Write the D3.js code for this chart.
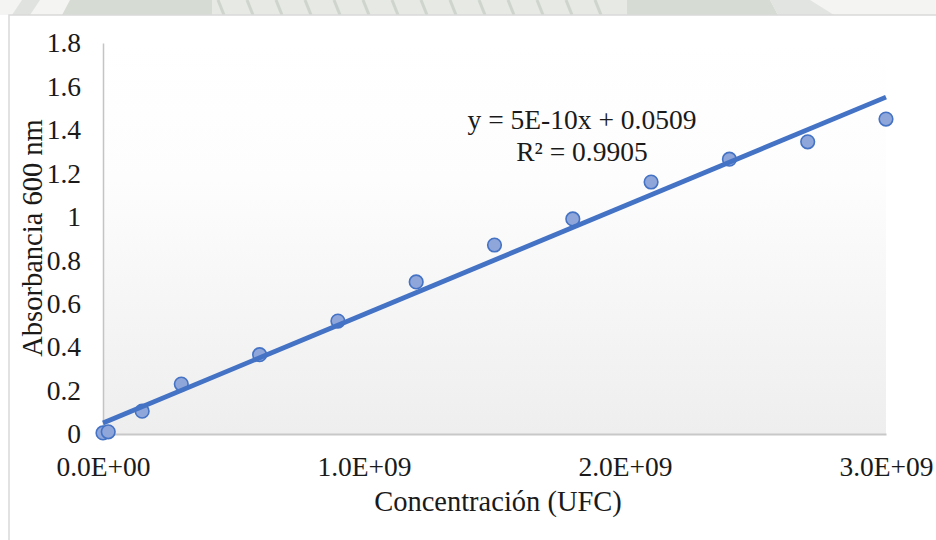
<!DOCTYPE html>
<html>
<head>
<meta charset="utf-8">
<script src="https://cdn.jsdelivr.net/npm/d3@7"></script>
<style>
  html, body { margin: 0; padding: 0; background: #ffffff; }
  svg { display: block; }
  svg text { font-family: "Liberation Serif", "DejaVu Serif", serif; fill: #1a1a1a; }
</style>
</head>
<body>
<svg id="chart" width="936" height="540"></svg>
<script>
// Measured samples: concentration (UFC) and absorbance at 600 nm
const concentration = [0, 2e7, 1.5e8, 3e8, 6e8, 9e8, 1.2e9, 1.5e9, 1.8e9, 2.1e9, 2.4e9, 2.7e9, 3.0e9];
const absorbance    = [0.005, 0.01, 0.105, 0.23, 0.365, 0.52, 0.70, 0.87, 0.99, 1.16, 1.265, 1.345, 1.45];

// Linear trendline as reported on the chart
const slope = 5e-10;
const intercept = 0.0509;
const equationLabels = ["y = 5E-10x + 0.0509", "R\u00B2 = 0.9905"];

// Axis ticks and titles
const xTicks = [0, 1e9, 2e9, 3e9];
const xTickLabels = ["0.0E+00", "1.0E+09", "2.0E+09", "3.0E+09"];
const yTicks = [0, 0.2, 0.4, 0.6, 0.8, 1, 1.2, 1.4, 1.6, 1.8];
const xTitle = "Concentraci\u00F3n (UFC)";
const yTitle = "Absorbancia 600 nm";

const FONT = "Liberation Serif, DejaVu Serif, serif";
const FS = 27.5;
const TITLE_FS = 28.5;

const svg = d3.select("#chart");
const W = 936, H = 540;
const plot = { left: 103, right: 886, top: 43, bottom: 434 };

// Faint banner strip across the top edge
const banner = svg.append("g");
banner.append("rect").attr("x", 0).attr("y", 0).attr("width", W).attr("height", 15).attr("fill", "#f4f5f3");
banner.append("polygon").attr("points", "70,0 770,0 778,15 62,15").attr("fill", "#d6dcd3");
banner.append("polygon").attr("points", "22,0 40,0 30,15 12,15").attr("fill", "#e0e2df");
banner.append("polygon").attr("points", "770,0 810,0 834,15 778,15").attr("fill", "#e2e4e1");
banner.append("polygon").attr("points", "212,0 627,0 627,15 212,15").attr("fill", "#e6e9e4");
for (let i = 0; i < 14; i++) {
  const x0 = 218 + i * 29;
  banner.append("line").attr("x1", x0).attr("y1", 0).attr("x2", x0 + 6).attr("y2", 15)
    .attr("stroke", "#cfd5cc").attr("stroke-width", 3);
}

// Chart area frame
svg.append("rect").attr("x", 9).attr("y", 15).attr("width", W - 9 + 5).attr("height", H - 15 + 5)
  .attr("fill", "#ffffff").attr("stroke", "#d9d9d9").attr("stroke-width", 1.5);

// Plot area with soft vertical gradient
const defs = svg.append("defs");
const grad = defs.append("linearGradient").attr("id", "plotFill").attr("x1", 0).attr("y1", 0).attr("x2", 0).attr("y2", 1);
grad.append("stop").attr("offset", "0%").attr("stop-color", "#ffffff");
grad.append("stop").attr("offset", "35%").attr("stop-color", "#fdfdfd");
grad.append("stop").attr("offset", "100%").attr("stop-color", "#eeeeee");
svg.append("rect").attr("x", plot.left).attr("y", plot.top)
  .attr("width", plot.right - plot.left).attr("height", plot.bottom - plot.top)
  .attr("fill", "url(#plotFill)");

const x = d3.scaleLinear().domain([0, 3e9]).range([plot.left, plot.right]);
const y = d3.scaleLinear().domain([0, 1.8]).range([plot.bottom, plot.top]);

// Axes
const xAxis = d3.axisBottom(x).tickValues(xTicks).tickFormat((d, i) => xTickLabels[i]).tickSize(0).tickPadding(22);
const yAxis = d3.axisLeft(y).tickValues(yTicks).tickFormat(d3.format("~g")).tickSize(0).tickPadding(22);

const gx = svg.append("g").attr("transform", `translate(0,${plot.bottom})`).call(xAxis)
  .attr("font-family", FONT).attr("font-size", FS);
gx.select(".domain").attr("stroke", "#c8c8c8").attr("stroke-width", 2);
gx.selectAll("text").attr("fill", "#1a1a1a");

const gy = svg.append("g").attr("transform", `translate(${plot.left},0)`).call(yAxis)
  .attr("font-family", FONT).attr("font-size", FS);
gy.select(".domain").attr("stroke", "#c4c4c4").attr("stroke-width", 1.5);
gy.selectAll("text").attr("fill", "#1a1a1a");

// Axis titles
svg.append("text").attr("x", 498).attr("y", 511).attr("text-anchor", "middle")
  .attr("font-size", TITLE_FS).text(xTitle);
svg.append("text").attr("transform", "translate(42,238) rotate(-90)").attr("text-anchor", "middle")
  .attr("font-size", TITLE_FS).text(yTitle);

// Data points
const pts = concentration.map((c, i) => ({ c, a: absorbance[i] }));
svg.append("g").selectAll("circle").data(pts).join("circle")
  .attr("cx", d => x(d.c)).attr("cy", d => y(d.a)).attr("r", 6.8)
  .attr("fill", "#8fa6da").attr("stroke", "#4472c4").attr("stroke-width", 1.6);

// Trendline over the points
const trend = x.domain().map(v => ({ c: v, a: slope * v + intercept }));
svg.append("path").datum(trend)
  .attr("d", d3.line().x(d => x(d.c)).y(d => y(d.a)))
  .attr("stroke", "#4472c4").attr("stroke-width", 4.8).attr("fill", "none");

// Trendline equation
svg.append("text").attr("x", 582).attr("y", 129).attr("text-anchor", "middle").attr("font-size", FS).text(equationLabels[0]);
svg.append("text").attr("x", 582).attr("y", 161).attr("text-anchor", "middle").attr("font-size", FS).text(equationLabels[1]);
</script>
</body>
</html>
